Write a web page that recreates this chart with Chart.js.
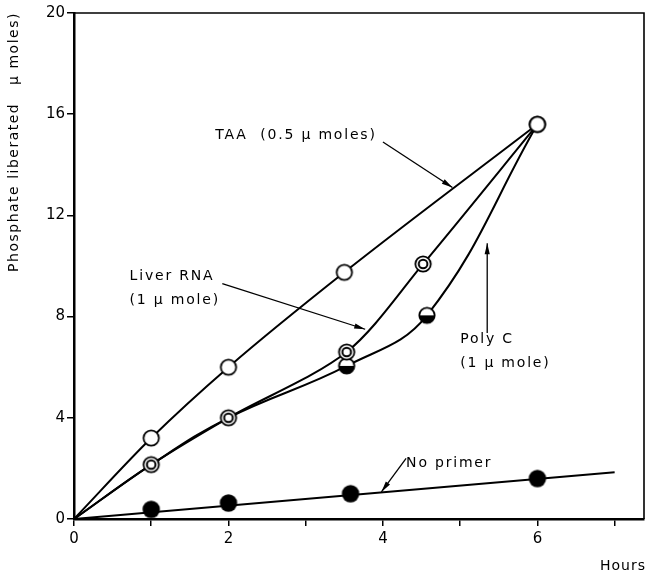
<!DOCTYPE html>
<html>
<head>
<meta charset="utf-8">
<script src="https://cdn.jsdelivr.net/npm/chart.js@4/dist/chart.umd.min.js"></script>
<style>
html,body{margin:0;padding:0;background:#fff;}
#wrap{width:645px;height:576px;position:relative;}
</style>
</head>
<body>
<div id="wrap"><canvas id="c" width="645" height="576"></canvas></div>
<script>
// ---- data ----
const taaX = [0, 1, 2, 3.5, 6];
const taaY = [0, 3.2, 6.0, 9.75, 15.6];
const liverX = [0, 1, 2, 3.53, 4.52, 6];
const liverY = [0, 2.15, 4.0, 6.6, 10.08, 15.6];
const polyX = [0, 1, 2, 3.53, 4.57, 6];
const polyY = [0, 2.15, 4.0, 6.05, 8.05, 15.6];
const polyMarked = [false, false, false, true, true, false];
const noPrimerX = [1, 2, 3.58, 6];
const noPrimerY = [0.38, 0.63, 1.0, 1.6];
const noPrimerFitX = [0, 7];
const noPrimerFitY = [0, 1.85];
const yTicks = [0, 4, 8, 12, 16, 20];
const xTickLabels = {0: '0', 2: '2', 4: '4', 6: '6'};
const yTitle = 'Phosphate liberated   \u03bc moles)';
const xTitle = 'Hours';
// annotations: text lines + arrow (from -> to) in data units
const notes = [
  {lines: ['TAA  (0.5 \u03bc moles)'], tx: 1.83, ty: 15.15, from: [4.0, 14.9], to: [4.9, 13.1]},
  {lines: ['Liver RNA', '(1 \u03bc mole)'], tx: 0.72, ty: 9.6, from: [1.92, 9.3], to: [3.77, 7.5]},
  {lines: ['Poly C', '(1 \u03bc mole)'], tx: 5.0, ty: 7.1, from: [5.35, 7.35], to: [5.35, 10.9]},
  {lines: ['No primer'], tx: 4.3, ty: 2.2, from: [4.3, 2.4], to: [3.98, 1.07]}
];

const toPts = (xs, ys) => xs.map((x, i) => ({x: x, y: ys[i]}));

function makeMarker(kind) {
  const s = 20, c = document.createElement('canvas');
  c.width = s; c.height = s;
  const g = c.getContext('2d');
  const r = 7.7, cx = s / 2, cy = s / 2;
  g.lineWidth = 1.8; g.strokeStyle = '#000';
  if (kind === 'open' || kind === 'double') {
    g.fillStyle = '#fff';
    g.beginPath(); g.arc(cx, cy, r, 0, Math.PI * 2); g.fill(); g.stroke();
    if (kind === 'double') { g.lineWidth = 2; g.beginPath(); g.arc(cx, cy, 4.3, 0, Math.PI * 2); g.stroke(); }
  } else if (kind === 'half') {
    g.fillStyle = '#fff';
    g.beginPath(); g.arc(cx, cy, r, 0, Math.PI * 2); g.fill(); g.stroke();
    g.fillStyle = '#000';
    g.beginPath(); g.arc(cx, cy, r, 0, Math.PI); g.closePath(); g.fill();
  } else {
    g.fillStyle = '#000';
    g.beginPath(); g.arc(cx, cy, 8.7, 0, Math.PI * 2); g.fill();
  }
  return c;
}
const mOpen = makeMarker('open'), mDouble = makeMarker('double'), mHalf = makeMarker('half'), mFill = makeMarker('fill');

const FONT = '"DejaVu Sans", "Liberation Sans", sans-serif';

const framePlugin = {
  id: 'frame',
  afterDatasetsDraw(chart) {
    const {ctx, chartArea: a, scales: {x, y}} = chart;
    ctx.save();
    ctx.strokeStyle = '#000'; ctx.lineWidth = 1.6;
    ctx.beginPath();
    ctx.moveTo(a.left, a.top); ctx.lineTo(a.right, a.top); ctx.lineTo(a.right, a.bottom);
    ctx.stroke();
    // annotations
    ctx.fillStyle = '#000';
    ctx.font = '14px ' + FONT;
    ctx.letterSpacing = '1.8px';
    ctx.textBaseline = 'middle';
    ctx.textAlign = 'left';
    notes.forEach(n => {
      const px = x.getPixelForValue(n.tx), py = y.getPixelForValue(n.ty);
      n.lines.forEach((t, i) => ctx.fillText(t, px, py + i * 24));
      const x1 = x.getPixelForValue(n.from[0]), y1 = y.getPixelForValue(n.from[1]);
      const x2 = x.getPixelForValue(n.to[0]), y2 = y.getPixelForValue(n.to[1]);
      ctx.lineWidth = 1.3;
      ctx.beginPath(); ctx.moveTo(x1, y1); ctx.lineTo(x2, y2); ctx.stroke();
      const ang = Math.atan2(y2 - y1, x2 - x1), L = 11, W = 2.6;
      ctx.beginPath();
      ctx.moveTo(x2, y2);
      ctx.lineTo(x2 - L * Math.cos(ang) + W * Math.sin(ang), y2 - L * Math.sin(ang) - W * Math.cos(ang));
      ctx.lineTo(x2 - L * Math.cos(ang) - W * Math.sin(ang), y2 - L * Math.sin(ang) + W * Math.cos(ang));
      ctx.closePath(); ctx.fill();
    });
    // axis titles
    ctx.font = '14px ' + FONT;
    ctx.save();
    ctx.translate(14, 142);
    ctx.rotate(-Math.PI / 2);
    ctx.textAlign = 'center';
    ctx.letterSpacing = '1.5px';
    ctx.fillText(yTitle, 0, 0);
    ctx.restore();
    ctx.letterSpacing = '1px';
    ctx.textAlign = 'right';
    ctx.fillText(xTitle, 646, 566);
    ctx.restore();
  }
};

const lineDs = (label, data, style, extra) => Object.assign({
  label, data, borderColor: '#000', borderWidth: 2, pointStyle: style,
  pointRadius: 8, pointHoverRadius: 8, showLine: true, fill: false,
  cubicInterpolationMode: 'monotone', order: 1
}, extra || {});

new Chart(document.getElementById('c'), {
  type: 'scatter',
  data: {
    datasets: [
      lineDs('No primer fit', toPts(noPrimerFitX, noPrimerFitY), false, {pointRadius: 0, tension: 0, cubicInterpolationMode: 'default', order: 3}),
      lineDs('No primer', toPts(noPrimerX, noPrimerY), mFill, {showLine: false}),
      lineDs('TAA', toPts(taaX, taaY), mOpen, {pointRadius: taaX.map((v, i) => i === 0 ? 0 : 8)}),
      lineDs('Poly C', toPts(polyX, polyY), mHalf, {pointRadius: polyMarked.map(m => m ? 8 : 0), order: 2, cubicInterpolationMode: 'default', tension: 0.4}),
      lineDs('Liver RNA', toPts(liverX, liverY), mDouble, {pointRadius: liverX.map((v, i) => i === 0 ? 0 : 8), cubicInterpolationMode: 'default', tension: 0.3})
    ]
  },
  options: {
    responsive: false,
    animation: false,
    events: [],
    layout: {autoPadding: false, padding: {top: 13, right: 1, left: 0, bottom: 0}},
    plugins: {legend: {display: false}, tooltip: {enabled: false}},
    scales: {
      x: {
        type: 'linear', min: 0, max: 7.38,
        afterFit(s) { s.height = 57; s.paddingLeft = 0; s.paddingRight = 0; },
        ticks: {
          stepSize: 1, includeBounds: false, autoSkip: false, maxRotation: 0,
          color: '#000', font: {family: FONT, size: 15}, padding: 4,
          callback: v => (xTickLabels[v] !== undefined ? xTickLabels[v] : '')
        },
        grid: {display: true, drawOnChartArea: false, drawTicks: true, tickLength: 7, color: '#000', lineWidth: 1.5},
        border: {display: true, color: '#000', width: 2.5}
      },
      y: {
        type: 'linear', min: 0, max: 20,
        afterFit(s) { s.width = 74; s.paddingTop = 0; s.paddingBottom = 0; },
        afterBuildTicks(s) { s.ticks = yTicks.map(v => ({value: v})); },
        ticks: {color: '#000', font: {family: FONT, size: 15}, padding: 2},
        grid: {display: true, drawOnChartArea: false, drawTicks: true, tickLength: 7, color: '#000', lineWidth: 1.5},
        border: {display: true, color: '#000', width: 2.5}
      }
    }
  },
  plugins: [framePlugin]
});
</script>
</body>
</html>
